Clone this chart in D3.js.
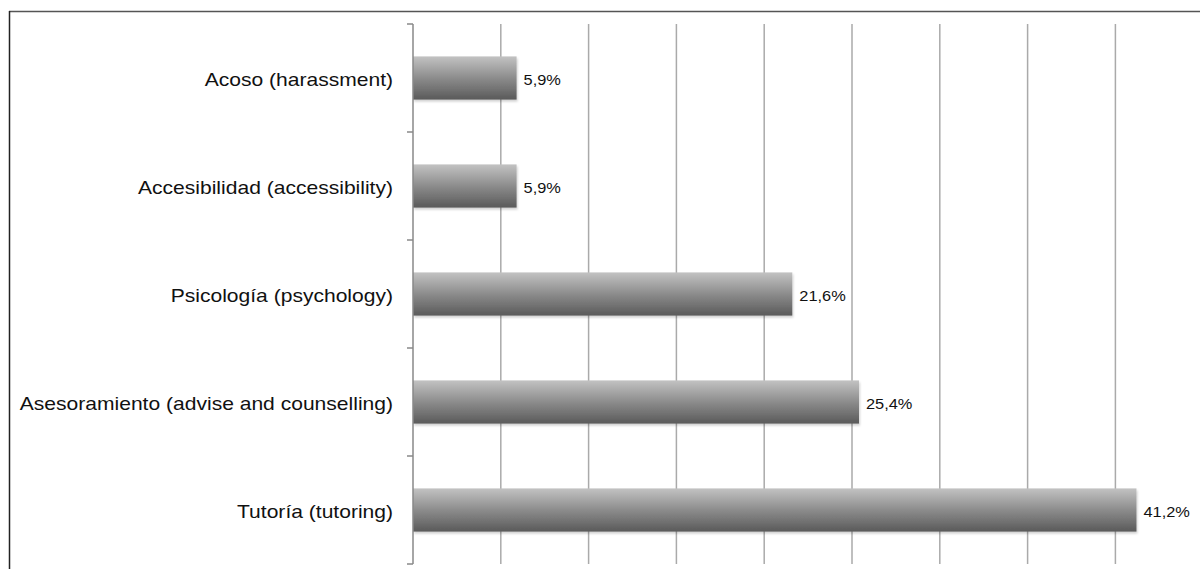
<!DOCTYPE html>
<html>
<head>
<meta charset="utf-8">
<script src="https://cdn.jsdelivr.net/npm/d3@7"></script>
<style>
  body { margin: 0; background: #fff; }
  svg { display: block; font-family: "Liberation Sans", Arial, sans-serif; }
</style>
</head>
<body>
<svg id="chart" width="1200" height="569"></svg>
<script>
const categories = [
  "Acoso (harassment)",
  "Accesibilidad (accessibility)",
  "Psicología (psychology)",
  "Asesoramiento (advise and counselling)",
  "Tutoría (tutoring)"
];
const values = [5.9, 5.9, 21.6, 25.4, 41.2];
const gridTicks = [5, 10, 15, 20, 25, 30, 35, 40, 45];

const width = 1200;
const height = 569;
const plotLeft = 413;
const plotTop = 24;
const plotBottom = 564;
const stretch = 1.17; // text in the picture is a bit wide

const svg = d3.select("#chart");

// Frame
svg.append("line").attr("x1", 9).attr("x2", width).attr("y1", 11.5).attr("y2", 11.5)
  .attr("stroke", "#555").attr("stroke-width", 1.5);
svg.append("line").attr("x1", 9.5).attr("x2", 9.5).attr("y1", 11).attr("y2", height)
  .attr("stroke", "#222").attr("stroke-width", 1.5);

const x = d3.scaleLinear().domain([0, 45]).range([plotLeft, plotLeft + 9 * 87.8]);
const y = d3.scaleBand().domain(categories).range([plotTop, plotBottom]).padding(0);

// Gradient + shadow
const defs = svg.append("defs");
const grad = defs.append("linearGradient").attr("id", "barGrad")
  .attr("x1", 0).attr("y1", 0).attr("x2", 0).attr("y2", 1);
grad.append("stop").attr("offset", "0%").attr("stop-color", "#c2c2c2");
grad.append("stop").attr("offset", "50%").attr("stop-color", "#8c8c8c");
grad.append("stop").attr("offset", "100%").attr("stop-color", "#5a5a5a");
const f = defs.append("filter").attr("id", "shadow").attr("x", "-5%").attr("y", "-20%")
  .attr("width", "110%").attr("height", "150%");
f.append("feDropShadow").attr("dx", 1).attr("dy", 2).attr("stdDeviation", 1.2)
  .attr("flood-color", "#000").attr("flood-opacity", 0.18);

// Gridlines
svg.append("g")
  .selectAll("line")
  .data(gridTicks)
  .join("line")
  .attr("x1", d => x(d)).attr("x2", d => x(d))
  .attr("y1", plotTop).attr("y2", plotBottom)
  .attr("stroke", "#aaa").attr("stroke-width", 1.5);

// Bars
const barH = y.bandwidth() * 0.4;
svg.append("g")
  .selectAll("rect")
  .data(categories)
  .join("rect")
  .attr("x", x(0))
  .attr("y", d => y(d) + (y.bandwidth() - barH) / 2)
  .attr("width", (d, i) => x(values[i]) - x(0))
  .attr("height", barH)
  .attr("fill", "url(#barGrad)")
  .attr("filter", "url(#shadow)");

// Left axis with ticks at category boundaries
const axisG = svg.append("g");
axisG.append("line").attr("x1", plotLeft).attr("x2", plotLeft).attr("y1", plotTop).attr("y2", plotBottom)
  .attr("stroke", "#888").attr("stroke-width", 1.5);
const bounds = categories.map(c => y(c)).concat([y.range()[1]]);
axisG.selectAll("line.tick")
  .data(bounds)
  .join("line")
  .attr("class", "tick")
  .attr("x1", plotLeft - 6).attr("x2", plotLeft)
  .attr("y1", d => d).attr("y2", d => d)
  .attr("stroke", "#888").attr("stroke-width", 1.5);

// Category labels
svg.append("g")
  .selectAll("text")
  .data(categories)
  .join("text")
  .attr("transform", d => `translate(393, ${y(d) + y.bandwidth() / 2 + 8}) scale(${stretch}, 1)`)
  .attr("text-anchor", "end")
  .attr("font-size", 18)
  .attr("fill", "#111")
  .text(d => d);

// Value labels
svg.append("g")
  .selectAll("text")
  .data(categories)
  .join("text")
  .attr("transform", (d, i) => `translate(${x(values[i]) + 7}, ${y(d) + y.bandwidth() / 2 + 6.5}) scale(${stretch}, 1)`)
  .attr("font-size", 14)
  .attr("fill", "#111")
  .text((d, i) => d3.format(".1f")(values[i]).replace(".", ",") + "%");
</script>
</body>
</html>
